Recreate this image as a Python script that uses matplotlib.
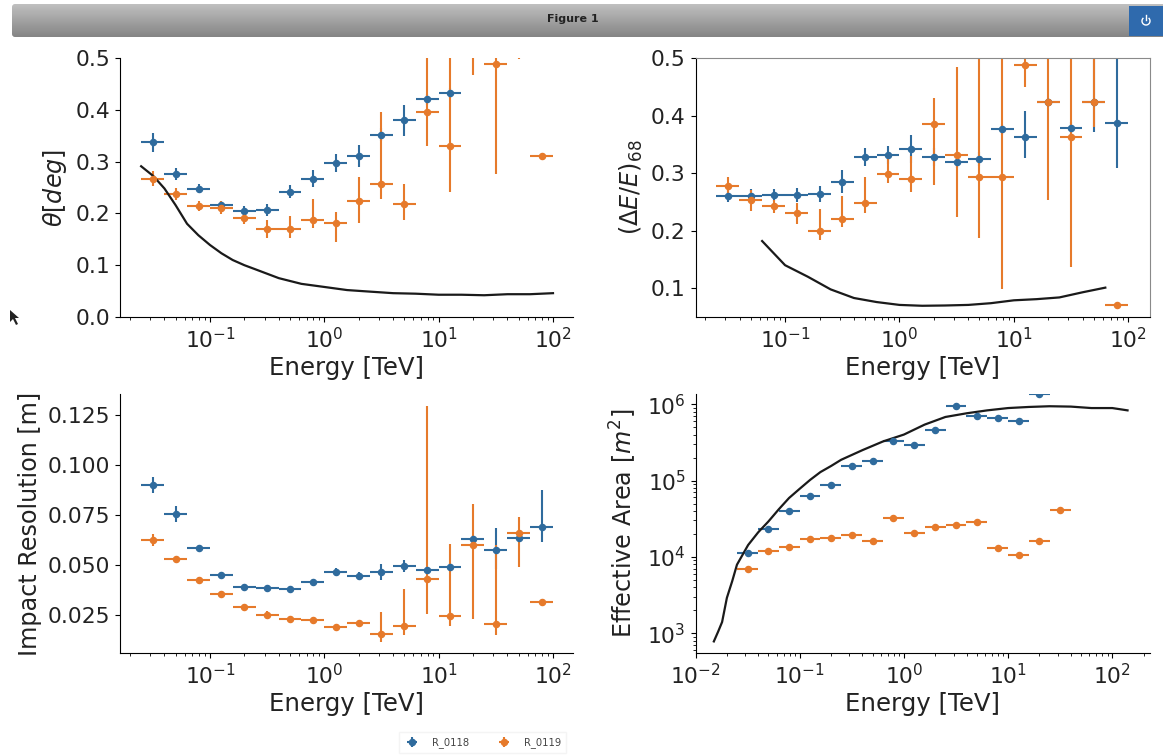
#!/usr/bin/env python3

import matplotlib
matplotlib.use("Agg")
import matplotlib.pyplot as plt
import numpy as np
from matplotlib.patches import Arc, FancyBboxPatch, Polygon, Rectangle

W, H = 1163, 755
BLUE = "#2f6b9d"
ORANGE = "#e67a2b"

# bin edges, 5 per decade
edges = [0.025, 0.0398, 0.0631, 0.1, 0.158, 0.251, 0.398, 0.631, 1.0, 1.58,
         2.51, 3.98, 6.31, 10.0, 15.8, 25.1, 39.8, 63.1, 100.0]
centers = [0.0316, 0.05, 0.0794, 0.126, 0.2, 0.316, 0.5, 0.794, 1.26, 2.0,
           3.16, 5.0, 7.94, 12.6, 20.0, 31.6, 50.0, 79.4]

# theta68
theta_blue = [0.337, 0.276, 0.248, 0.216, 0.204, 0.207, 0.242, 0.267, 0.297, 0.311,
              0.352, 0.380, 0.420, 0.432]
theta_blue_lo = [0.318, 0.264, 0.240, 0.208, 0.194, 0.195, 0.230, 0.251, 0.279, 0.289,
                 0.340, 0.350, 0.410, 0.422]
theta_blue_hi = [0.355, 0.288, 0.256, 0.224, 0.214, 0.219, 0.254, 0.283, 0.315, 0.333,
                 0.364, 0.410, 0.430, 0.442]
theta_orange = [0.267, 0.237, 0.214, 0.211, 0.192, 0.170, 0.170, 0.187, 0.181, 0.223,
                0.257, 0.218, 0.396, 0.330, 0.600, 0.489, 0.650, 0.311]
theta_orange_lo = [0.252, 0.225, 0.204, 0.199, 0.180, 0.152, 0.152, 0.172, 0.145, 0.181,
                   0.227, 0.187, 0.330, 0.241, 0.467, 0.277, 0.498, 0.309]
theta_orange_hi = [0.282, 0.249, 0.224, 0.223, 0.204, 0.188, 0.195, 0.227, 0.202, 0.270,
                   0.395, 0.257, 0.700, 0.700, 0.800, 0.700, 0.800, 0.313]
theta_line_x = [0.025, 0.032, 0.04, 0.05, 0.063, 0.079, 0.1, 0.126, 0.158, 0.2, 0.25, 0.4,
                0.63, 1.0, 1.58, 2.5, 4.0, 6.3, 10.0, 15.8, 25.0, 40.0, 63.0, 100.0]
theta_line_y = [0.291, 0.272, 0.248, 0.216, 0.180, 0.158, 0.139, 0.123, 0.110, 0.100, 0.092,
                0.075, 0.064, 0.058, 0.052, 0.049, 0.046, 0.045, 0.043, 0.043, 0.042,
                0.044, 0.044, 0.046]

# energy resolution
eres_blue = [0.261, 0.260, 0.262, 0.262, 0.264, 0.285, 0.328, 0.331, 0.342, 0.328,
             0.319, 0.325, 0.376, 0.362, 0.423, 0.378, 0.423, 0.387]
eres_blue_lo = [0.249, 0.248, 0.252, 0.250, 0.250, 0.265, 0.312, 0.315, 0.318, 0.313,
                0.309, 0.313, 0.366, 0.327, 0.415, 0.368, 0.372, 0.309]
eres_blue_hi = [0.273, 0.272, 0.272, 0.274, 0.278, 0.305, 0.344, 0.347, 0.366, 0.343,
                0.329, 0.337, 0.386, 0.408, 0.431, 0.388, 0.600, 0.600]
eres_orange = [0.278, 0.253, 0.242, 0.230, 0.200, 0.221, 0.248, 0.299, 0.290, 0.385,
               0.331, 0.293, 0.293, 0.487, 0.423, 0.362, 0.423, 0.070]
eres_orange_lo = [0.263, 0.235, 0.230, 0.212, 0.183, 0.206, 0.231, 0.283, 0.268, 0.280,
                  0.224, 0.187, 0.098, 0.450, 0.254, 0.137, 0.380, 0.068]
eres_orange_hi = [0.293, 0.271, 0.254, 0.248, 0.237, 0.260, 0.293, 0.330, 0.330, 0.430,
                  0.485, 0.700, 0.700, 0.600, 0.700, 0.700, 0.700, 0.072]
eres_line_x = [0.063, 0.1, 0.158, 0.25, 0.4, 0.63, 1.0, 1.58, 2.5, 4.0, 6.3, 10.0,
               15.8, 25.0, 40.0, 63.0]
eres_line_y = [0.182, 0.140, 0.120, 0.098, 0.083, 0.076, 0.071, 0.0695, 0.070, 0.071,
               0.074, 0.079, 0.081, 0.084, 0.093, 0.101]

# impact resolution
imp_blue = [0.0900, 0.0753, 0.0583, 0.0448, 0.0390, 0.0387, 0.0380, 0.0415, 0.0465, 0.0447,
            0.0463, 0.0497, 0.0477, 0.0488, 0.0628, 0.0573, 0.0637, 0.0690]
imp_blue_lo = [0.0860, 0.0713, 0.0568, 0.0438, 0.0380, 0.0377, 0.0370, 0.0400, 0.0445, 0.0427,
               0.0425, 0.0467, 0.0462, 0.0468, 0.0608, 0.0480, 0.0617, 0.0615]
imp_blue_hi = [0.0940, 0.0793, 0.0598, 0.0458, 0.0400, 0.0397, 0.0390, 0.0430, 0.0485, 0.0467,
               0.0505, 0.0527, 0.0492, 0.0508, 0.0648, 0.0685, 0.0657, 0.0875]
imp_orange = [0.0623, 0.0530, 0.0425, 0.0357, 0.0292, 0.0252, 0.0232, 0.0223, 0.0188, 0.0208,
              0.0153, 0.0197, 0.0432, 0.0247, 0.0602, 0.0203, 0.0662, 0.0313]
imp_orange_lo = [0.0593, 0.0520, 0.0410, 0.0342, 0.0282, 0.0232, 0.0222, 0.0213, 0.0178, 0.0198,
                 0.0115, 0.0150, 0.0253, 0.0195, 0.0228, 0.0150, 0.0490, 0.0308]
imp_orange_hi = [0.0653, 0.0540, 0.0440, 0.0372, 0.0302, 0.0272, 0.0242, 0.0233, 0.0198, 0.0218,
                 0.0265, 0.0380, 0.1295, 0.0605, 0.0805, 0.0600, 0.0742, 0.0318]

# effective area
area_blue = [1.12e4, 2.3e4, 4.0e4, 6.2e4, 8.8e4, 1.56e5, 1.81e5, 3.3e5, 2.96e5, 4.6e5,
             9.5e5, 7.1e5, 6.5e5, 6.1e5, 1.35e6]
area_orange = [7.0e3, 1.21e4, 1.36e4, 1.72e4, 1.77e4, 1.92e4, 1.59e4, 3.27e4, 2.06e4, 2.45e4,
               2.65e4, 2.85e4, 1.32e4, 1.06e4, 1.59e4, 4.13e4]
area_line_x = [0.015, 0.0165, 0.018, 0.02, 0.0225, 0.025, 0.032, 0.04, 0.05, 0.063, 0.079, 0.1,
               0.126, 0.158, 0.2, 0.25, 0.4, 0.63, 1.0, 1.58, 2.5, 4.0, 6.3, 10.0, 15.8, 25.0,
               40.0, 63.0, 100.0, 140.0]
area_line_y = [7.8e2, 1.05e3, 1.4e3, 2.9e3, 4.8e3, 7.9e3, 1.43e4, 2.1e4, 2.9e4, 4.2e4, 5.9e4,
               7.8e4, 1.02e5, 1.29e5, 1.55e5, 1.87e5, 2.5e5, 3.25e5, 4.0e5, 5.4e5, 6.8e5, 7.6e5,
               8.3e5, 8.9e5, 9.2e5, 9.4e5, 9.3e5, 8.9e5, 8.9e5, 8.3e5]


def pixel_axes(fig, left, top, right, bottom):
    return fig.add_axes([left / W, 1 - bottom / H, (right - left) / W, (bottom - top) / H])


def draw_points(ax, ys, lo, hi, color, label):
    n = len(ys)
    xs = np.array(centers[:n])
    xerr = [xs - np.array(edges[:n]), np.array(edges[1:n + 1]) - xs]
    ys = np.array(ys)
    if lo is None:
        yerr = None
    else:
        yerr = [ys - np.array(lo), np.array(hi) - ys]
    ax.errorbar(xs, ys, xerr=xerr, yerr=yerr, fmt="o", ms=4.4, color=color,
                elinewidth=1.5, label=label)


fig = plt.figure(figsize=(W / 100, H / 100), dpi=100)

ax1 = pixel_axes(fig, 120, 58, 573, 317)
ax2 = pixel_axes(fig, 695.5, 58, 1150, 317)
ax3 = pixel_axes(fig, 120, 394, 573, 653)
ax4 = pixel_axes(fig, 695.5, 394, 1150, 653)

draw_points(ax1, theta_blue, theta_blue_lo, theta_blue_hi, BLUE, "R_0118")
draw_points(ax1, theta_orange, theta_orange_lo, theta_orange_hi, ORANGE, "R_0119")
ax1.plot(theta_line_x, theta_line_y, color="#1a1a1a", lw=1.6)
ax1.set_ylim(0, 0.5)
ax1.set_ylabel(r"$\theta[deg]$", labelpad=5)

draw_points(ax2, eres_blue, eres_blue_lo, eres_blue_hi, BLUE, "R_0118")
draw_points(ax2, eres_orange, eres_orange_lo, eres_orange_hi, ORANGE, "R_0119")
ax2.plot(eres_line_x, eres_line_y, color="#1a1a1a", lw=1.6)
ax2.set_ylim(0.05, 0.5)
ax2.set_yticks([0.1, 0.2, 0.3, 0.4, 0.5])
ax2.set_ylabel(r"$(\Delta E/E)_{68}$", labelpad=4)

draw_points(ax3, imp_blue, imp_blue_lo, imp_blue_hi, BLUE, "R_0118")
draw_points(ax3, imp_orange, imp_orange_lo, imp_orange_hi, ORANGE, "R_0119")
ax3.set_ylim(0.006, 0.1355)
ax3.set_yticks([0.025, 0.05, 0.075, 0.1, 0.125])
ax3.set_yticklabels(["0.025", "0.050", "0.075", "0.100", "0.125"])
ax3.set_ylabel("Impact Resolution [m]", labelpad=4)

draw_points(ax4, area_blue, None, None, BLUE, "R_0118")
draw_points(ax4, area_orange, None, None, ORANGE, "R_0119")
ax4.plot(area_line_x, area_line_y, color="#1a1a1a", lw=1.6)
ax4.set_yscale("log")
ax4.set_ylim(550, 1.36e6)
ax4.set_ylabel(r"Effective Area [$m^2$]", labelpad=6)

for ax in [ax1, ax2, ax3, ax4]:
    ax.set_xscale("log")
    ax.set_xlabel("Energy [TeV]", fontsize=17.6, labelpad=3, color="#222222")
    ax.yaxis.label.set_size(17.2)
    ax.yaxis.label.set_color("#222222")
    ax.tick_params(axis="both", which="major", labelsize=15.7, labelcolor="#222222")
    ax.spines["top"].set_visible(False)
    ax.spines["right"].set_visible(False)
    ax.set_xticks([0.1, 1, 10, 100] if ax is not ax4 else [0.01, 0.1, 1, 10, 100])

ax1.set_xlim(10 ** -1.787, 10 ** 2.175)
ax2.set_xlim(10 ** -1.783, 10 ** 2.19)
ax3.set_xlim(10 ** -1.787, 10 ** 2.175)
ax4.set_xlim(0.01, 230)

# second panel keeps a pale frame
ax2.spines["top"].set_visible(True)
ax2.spines["right"].set_visible(True)
ax2.spines["top"].set_color("#8a8a8a")
ax2.spines["right"].set_color("#8a8a8a")

handles, labels = ax1.get_legend_handles_labels()
leg = fig.legend(handles, labels, loc="lower left", bbox_to_anchor=(394 / W, -0.004), ncol=2,
                 fontsize=7.2, frameon=True, edgecolor="#f2f2f2", fancybox=False,
                 columnspacing=2.7, handlelength=1.6, handletextpad=1.2, borderpad=0.5)
for t in leg.get_texts():
    t.set_color("#444444")

# notebook window bar
bar = fig.add_axes([0, 0, 1, 1], zorder=5)
bar.patch.set_alpha(0)
bar.axis("off")
grad = bar.imshow(np.linspace(0.75, 0.52, 64).reshape(-1, 1), cmap="gray", vmin=0, vmax=1,
                  extent=[12, W, 37, 4], aspect="auto")
bar.set_xlim(0, W)
bar.set_ylim(H, 0)
clip = FancyBboxPatch((15, 7), W, 27, boxstyle="round,pad=3", transform=bar.transData,
                      fc="none", ec="none")
bar.add_patch(clip)
grad.set_clip_path(clip)
bar.text(572.5, 19.5, "Figure 1", ha="center", va="center", fontsize=8, fontweight="bold",
         color="#222222")
bar.add_patch(Rectangle((1129, 6), 34, 30, fc="#2f6aad", ec="none"))
bar.add_patch(Arc((1146, 21), 8, 8, theta1=-50, theta2=230, ec="white", lw=1))
bar.plot([1146, 1146], [15, 20], color="white", lw=1)
bar.add_patch(Polygon([(10, 310), (10, 322), (13, 319), (16, 325), (18, 324), (15, 318), (19, 318)],
                      fc="#222222", ec="none"))

fig.savefig("out.png", dpi=100)
